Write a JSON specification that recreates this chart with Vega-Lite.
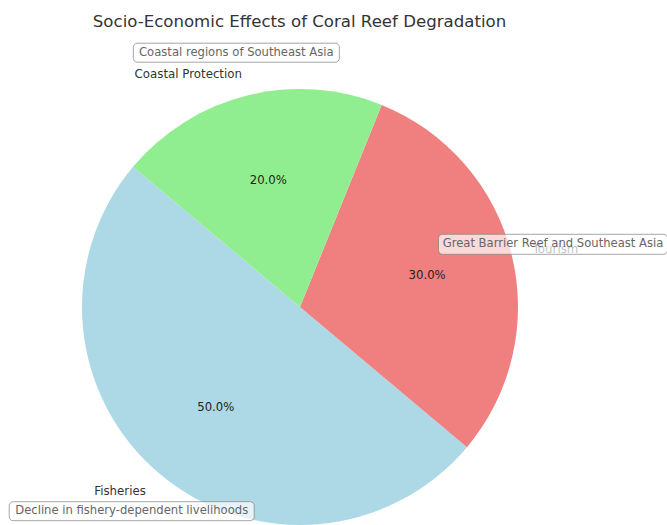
{
  "$schema": "https://vega.github.io/schema/vega-lite/v6.json",
  "width": 667,
  "height": 485,
  "padding": {"top": 40, "left": 0, "right": 0, "bottom": 0},
  "autosize": {"type": "none"},
  "background": "white",
  "title": {"text": "Socio-Economic Effects of Coral Reef Degradation", "font": "DejaVu Sans", "fontSize": 16.6, "fontWeight": "normal", "color": "#333333", "anchor": "middle", "dx": -34, "offset": 9},
  "config": {"view": {"stroke": null}, "text": {"font": "DejaVu Sans"}},
  "datasets": {
    "shares": [
      {"category": "Fisheries", "share": 0.5},
      {"category": "Tourism", "share": 0.3},
      {"category": "Coastal Protection", "share": 0.2}
    ],
    "notes": [
      {"category": "Coastal Protection", "note": "Coastal regions of Southeast Asia", "nx": -0.292, "ny": 1.1665},
      {"category": "Tourism", "note": "Great Barrier Reef and Southeast Asia", "nx": 1.1606, "ny": 0.2876},
      {"category": "Fisheries", "note": "Decline in fishery-dependent livelihoods", "nx": -0.772, "ny": -0.9367}
    ]
  },
  "layer": [
    {
      "data": {"name": "shares"},
      "mark": {"type": "arc", "outerRadius": 218},
      "encoding": {
        "theta": {"field": "share", "type": "quantitative", "stack": true, "scale": {"range": [-0.87266, 5.41052]}},
        "order": {"field": "share", "sort": "ascending"},
        "color": {"field": "category", "type": "nominal", "scale": {"domain": ["Fisheries", "Tourism", "Coastal Protection"], "range": ["#ADD8E6", "#F08080", "#90EE90"]}, "legend": null},
        "x": {"datum": 0, "type": "quantitative", "scale": {"domain": [-1.3761, 1.6835], "nice": false, "zero": false}, "axis": null},
        "y": {"datum": 0, "type": "quantitative", "scale": {"domain": [-1.0, 1.2248], "nice": false, "zero": false}, "axis": null}
      }
    },
    {
      "data": {"name": "shares"},
      "mark": {"type": "text", "radius": 131, "fontSize": 11.7, "color": "#222222"},
      "encoding": {
        "theta": {"field": "share", "type": "quantitative", "stack": true},
        "order": {"field": "share", "sort": "ascending"},
        "text": {"field": "share", "type": "quantitative", "format": ".1%"},
        "x": {"datum": 0, "type": "quantitative"},
        "y": {"datum": 0, "type": "quantitative"}
      }
    },
    {
      "data": {"name": "shares"},
      "mark": {"type": "text", "radius": 239.8, "fontSize": 11.8, "color": "#333333", "align": "right", "baseline": "middle"},
      "encoding": {
        "theta": {"field": "share", "type": "quantitative", "stack": true},
        "order": {"field": "share", "sort": "ascending"},
        "text": {"condition": {"test": "datum.category === 'Tourism'", "value": ""}, "field": "category", "type": "nominal"},
        "x": {"datum": 0, "type": "quantitative"},
        "y": {"datum": 0, "type": "quantitative"}
      }
    },
    {
      "data": {"name": "shares"},
      "mark": {"type": "text", "radius": 239.8, "fontSize": 11.8, "color": "#333333", "align": "left", "baseline": "middle"},
      "encoding": {
        "theta": {"field": "share", "type": "quantitative", "stack": true},
        "order": {"field": "share", "sort": "ascending"},
        "text": {"condition": {"test": "datum.category !== 'Tourism'", "value": ""}, "field": "category", "type": "nominal"},
        "x": {"datum": 0, "type": "quantitative"},
        "y": {"datum": 0, "type": "quantitative"}
      }
    },
    {
      "data": {"name": "notes"},
      "transform": [{"filter": "datum.category === 'Coastal Protection'"}],
      "mark": {"type": "rect", "cornerRadius": 4, "fill": "white", "fillOpacity": 0.7, "stroke": "#808080", "strokeOpacity": 0.7, "strokeWidth": 1, "xOffset": -103, "x2Offset": 103, "yOffset": -9.5, "y2Offset": 9.5},
      "encoding": {
        "x": {"field": "nx", "type": "quantitative"},
        "x2": {"field": "nx"},
        "y": {"field": "ny", "type": "quantitative"},
        "y2": {"field": "ny"}
      }
    },
    {
      "data": {"name": "notes"},
      "transform": [{"filter": "datum.category === 'Tourism'"}],
      "mark": {"type": "rect", "cornerRadius": 4, "fill": "white", "fillOpacity": 0.7, "stroke": "#808080", "strokeOpacity": 0.7, "strokeWidth": 1, "xOffset": -114.5, "x2Offset": 114.5, "yOffset": -10, "y2Offset": 10},
      "encoding": {
        "x": {"field": "nx", "type": "quantitative"},
        "x2": {"field": "nx"},
        "y": {"field": "ny", "type": "quantitative"},
        "y2": {"field": "ny"}
      }
    },
    {
      "data": {"name": "notes"},
      "transform": [{"filter": "datum.category === 'Fisheries'"}],
      "mark": {"type": "rect", "cornerRadius": 4, "fill": "white", "fillOpacity": 0.7, "stroke": "#808080", "strokeOpacity": 0.7, "strokeWidth": 1, "xOffset": -122.5, "x2Offset": 122.5, "yOffset": -9.5, "y2Offset": 9.5},
      "encoding": {
        "x": {"field": "nx", "type": "quantitative"},
        "x2": {"field": "nx"},
        "y": {"field": "ny", "type": "quantitative"},
        "y2": {"field": "ny"}
      }
    },
    {
      "data": {"name": "notes"},
      "mark": {"type": "text", "fontSize": 11.6, "color": "#666666", "align": "center", "baseline": "middle"},
      "encoding": {
        "x": {"field": "nx", "type": "quantitative"},
        "y": {"field": "ny", "type": "quantitative"},
        "text": {"field": "note", "type": "nominal"}
      }
    }
  ]
}
